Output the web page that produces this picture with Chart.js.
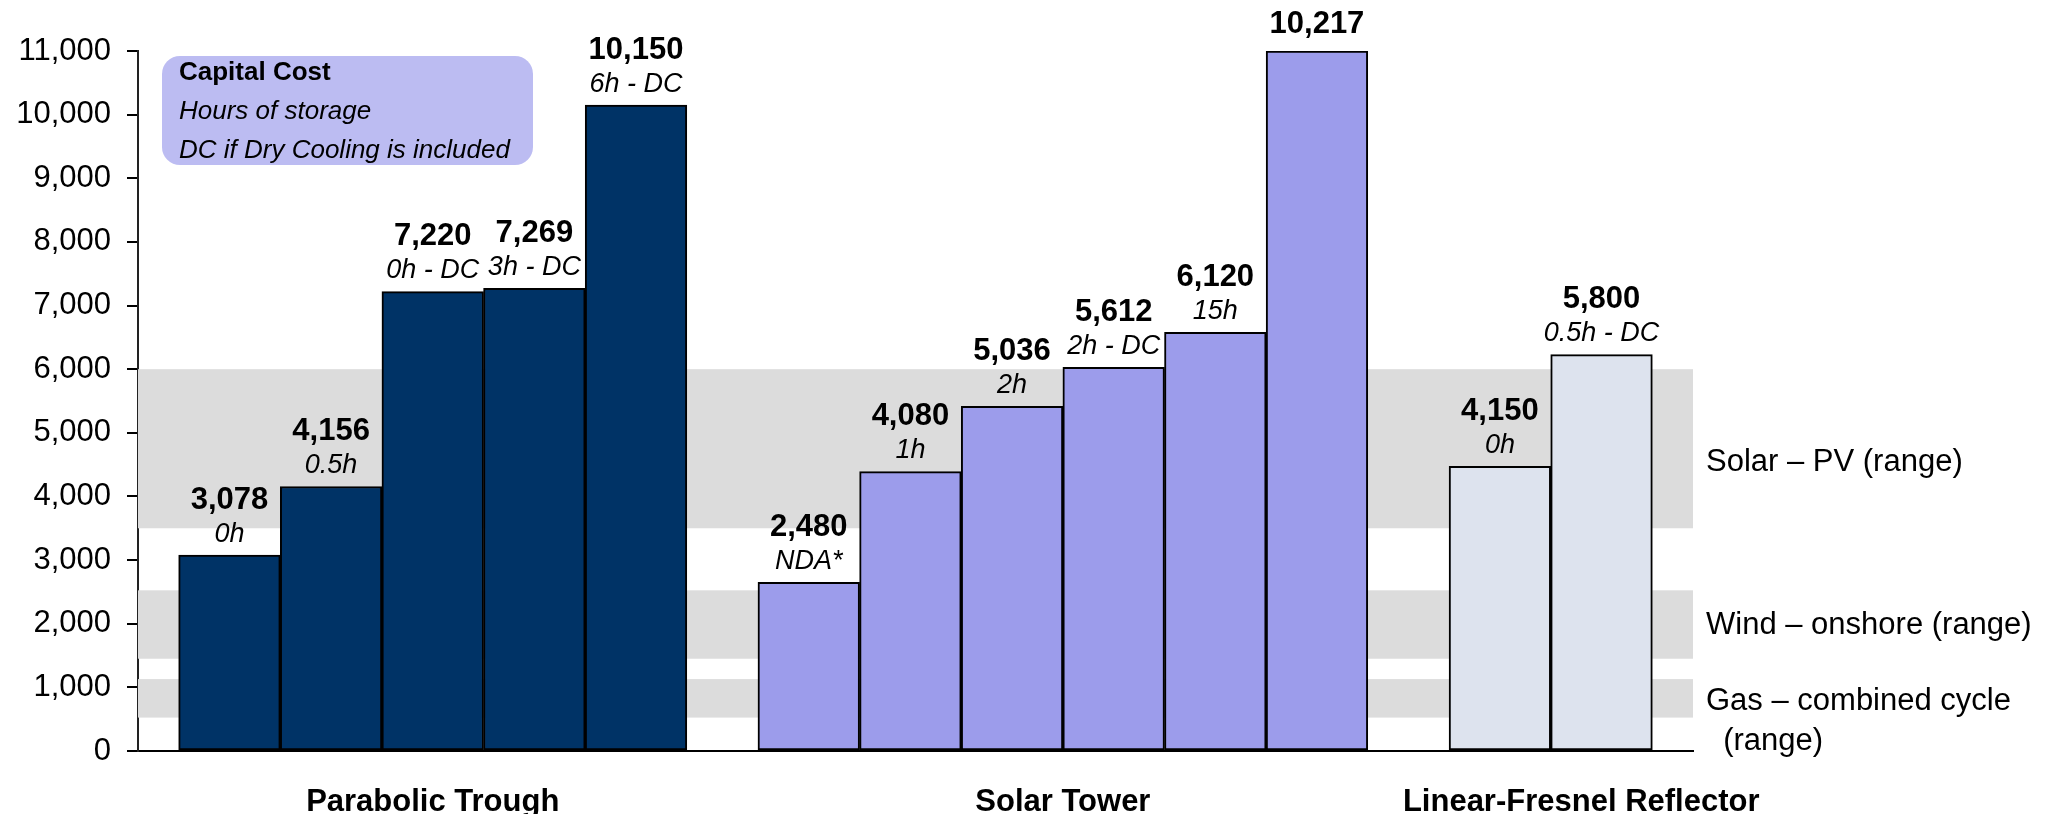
<!DOCTYPE html>
<html>
<head>
<meta charset="utf-8">
<script src="https://cdn.jsdelivr.net/npm/chart.js@4.4.1/dist/chart.umd.min.js"></script>
<style>
  html, body { margin: 0; padding: 0; background: #fff; }
</style>
</head>
<body>
<canvas id="chart" width="2047" height="814"></canvas>
<script>
// ===== DATA =====
const groupNames = ["Parabolic Trough", "Solar Tower", "Linear-Fresnel Reflector"];

const troughValues = [3078, 4156, 7220, 7269, 10150];
const troughLabels = ["3,078", "4,156", "7,220", "7,269", "10,150"];
const troughNotes = ["0h", "0.5h", "0h - DC", "3h - DC", "6h - DC"];

const towerValues = [2650, 4390, 5415, 6030, 6580, 11000];
const towerLabels = ["2,480", "4,080", "5,036", "5,612", "6,120", "10,217"];
const towerNotes = ["NDA*", "1h", "2h", "2h - DC", "15h", ""];

const fresnelValues = [4475, 6230];
const fresnelLabels = ["4,150", "5,800"];
const fresnelNotes = ["0h", "0.5h - DC"];

// other technologies, [low, high]
const bandRanges = [[3500, 6000], [1450, 2525], [525, 1130]];
const bandNames = [["Solar – PV (range)"], ["Wind – onshore (range)"], ["Gas – combined cycle", "  (range)"]];

const legendLines = ["Capital Cost", "Hours of storage", "DC if Dry Cooling is included"];

const yMax = 11000;
const yStep = 1000;

// ===== LAYOUT HELPERS =====
const GROUP_GAP = [0.7, 0.8, 0];
const EDGE = 0.4;
const LABEL_NUDGE = [0, 0, 0.3];

let cursor = 0;
const groupStart = [];
const groupEnd = [];
function place(values, gi) {
  groupStart.push(cursor);
  const pts = values.map((v, i) => ({ x: cursor + 0.5 + i, y: v }));
  cursor += values.length;
  groupEnd.push(cursor);
  cursor += GROUP_GAP[gi];
  return pts;
}
const troughPts = place(troughValues, 0);
const towerPts = place(towerValues, 1);
const fresnelPts = place(fresnelValues, 2);
const groupCenters = groupStart.map((s, i) => (s + groupEnd[i]) / 2 + LABEL_NUDGE[i]);

const FONT = "'Liberation Sans', Arial, sans-serif";
Chart.defaults.font.family = FONT;
Chart.defaults.color = "#000";

// ===== PLUGINS =====
const bandsPlugin = {
  id: "bands",
  beforeDatasetsDraw(chart) {
    const { ctx, chartArea, scales } = chart;
    ctx.save();
    ctx.fillStyle = "#dcdcdc";
    bandRanges.forEach(([lo, hi]) => {
      const y1 = scales.y.getPixelForValue(hi);
      const y2 = scales.y.getPixelForValue(lo);
      ctx.fillRect(chartArea.left, y1, chartArea.right - chartArea.left, y2 - y1);
    });
    ctx.restore();
  },
  afterDraw(chart) {
    const { ctx, chartArea, scales } = chart;
    ctx.save();
    ctx.font = "31px " + FONT;
    ctx.fillStyle = "#000";
    ctx.textBaseline = "middle";
    ctx.textAlign = "left";
    const nudge = [14, 1, 3];
    bandRanges.forEach(([lo, hi], i) => {
      const mid = scales.y.getPixelForValue((lo + hi) / 2) + nudge[i];
      bandNames[i].forEach((line, j) => {
        ctx.fillText(line, chartArea.right + 13, mid + j * 40);
      });
    });
    ctx.restore();
  }
};

const labelsPlugin = {
  id: "barLabels",
  afterDatasetsDraw(chart) {
    const { ctx } = chart;
    ctx.save();
    ctx.textAlign = "center";
    ctx.textBaseline = "middle";
    ctx.fillStyle = "#000";
    chart.data.datasets.forEach((ds, di) => {
      const meta = chart.getDatasetMeta(di);
      meta.data.forEach((bar, i) => {
        const note = ds.notes[i];
        ctx.font = "bold 31px " + FONT;
        ctx.fillText(ds.labels[i], bar.x, bar.y - (note ? 55 : 27));
        if (note) {
          ctx.font = "italic 27px " + FONT;
          ctx.fillText(note, bar.x, bar.y - 21);
        }
      });
    });
    ctx.restore();
  }
};

const legendPlugin = {
  id: "legendBox",
  afterDraw(chart) {
    const { ctx, chartArea } = chart;
    const x = chartArea.left + 24, y = chartArea.top + 5, w = 371, h = 109;
    ctx.save();
    ctx.fillStyle = "#bcbcf2";
    ctx.beginPath();
    ctx.roundRect(x, y, w, h, 18);
    ctx.fill();
    ctx.fillStyle = "#000";
    ctx.textAlign = "left";
    ctx.textBaseline = "middle";
    legendLines.forEach((line, i) => {
      ctx.font = (i === 0 ? "bold " : "italic ") + "26px " + FONT;
      ctx.fillText(line, x + 17, y + 17 + i * 39);
    });
    ctx.restore();
  }
};

// ===== CHART =====
new Chart(document.getElementById("chart"), {
  type: "bar",
  data: {
    datasets: [
      { data: troughPts, labels: troughLabels, notes: troughNotes, backgroundColor: "#003366" },
      { data: towerPts, labels: towerLabels, notes: towerNotes, backgroundColor: "#9c9ceb" },
      { data: fresnelPts, labels: fresnelLabels, notes: fresnelNotes, backgroundColor: "#dde3ee" }
    ].map(d => Object.assign(d, {
      borderColor: "#000",
      borderWidth: 2,
      borderSkipped: false,
      barPercentage: 1,
      categoryPercentage: 1,
      grouped: false
    }))
  },
  options: {
    responsive: false,
    animation: false,
    devicePixelRatio: 1,
    layout: { padding: { top: 51, right: 354, bottom: 0, left: 0 } },
    plugins: { legend: { display: false }, tooltip: { enabled: false } },
    scales: {
      x: {
        type: "linear",
        offset: false,
        min: -EDGE,
        max: cursor + EDGE,
        afterBuildTicks: (s) => { s.ticks = groupCenters.map(v => ({ value: v })); },
        afterFit: (s) => { s.height = 63; },
        grid: { display: false, drawTicks: false, offset: false },
        border: { display: true, color: "#000", width: 2 },
        ticks: {
          autoSkip: false,
          maxRotation: 0,
          padding: 33,
          font: { size: 31, weight: "bold" },
          callback: (v, i) => groupNames[i]
        }
      },
      y: {
        min: 0,
        max: yMax,
        afterFit: (s) => { s.width = 138; },
        grid: { drawOnChartArea: false, drawTicks: true, tickLength: 11, color: "#000", lineWidth: 2 },
        border: { display: true, color: "#222", width: 2 },
        ticks: { stepSize: yStep, padding: 16, font: { size: 31 } }
      }
    }
  },
  plugins: [bandsPlugin, labelsPlugin, legendPlugin]
});
</script>
</body>
</html>
